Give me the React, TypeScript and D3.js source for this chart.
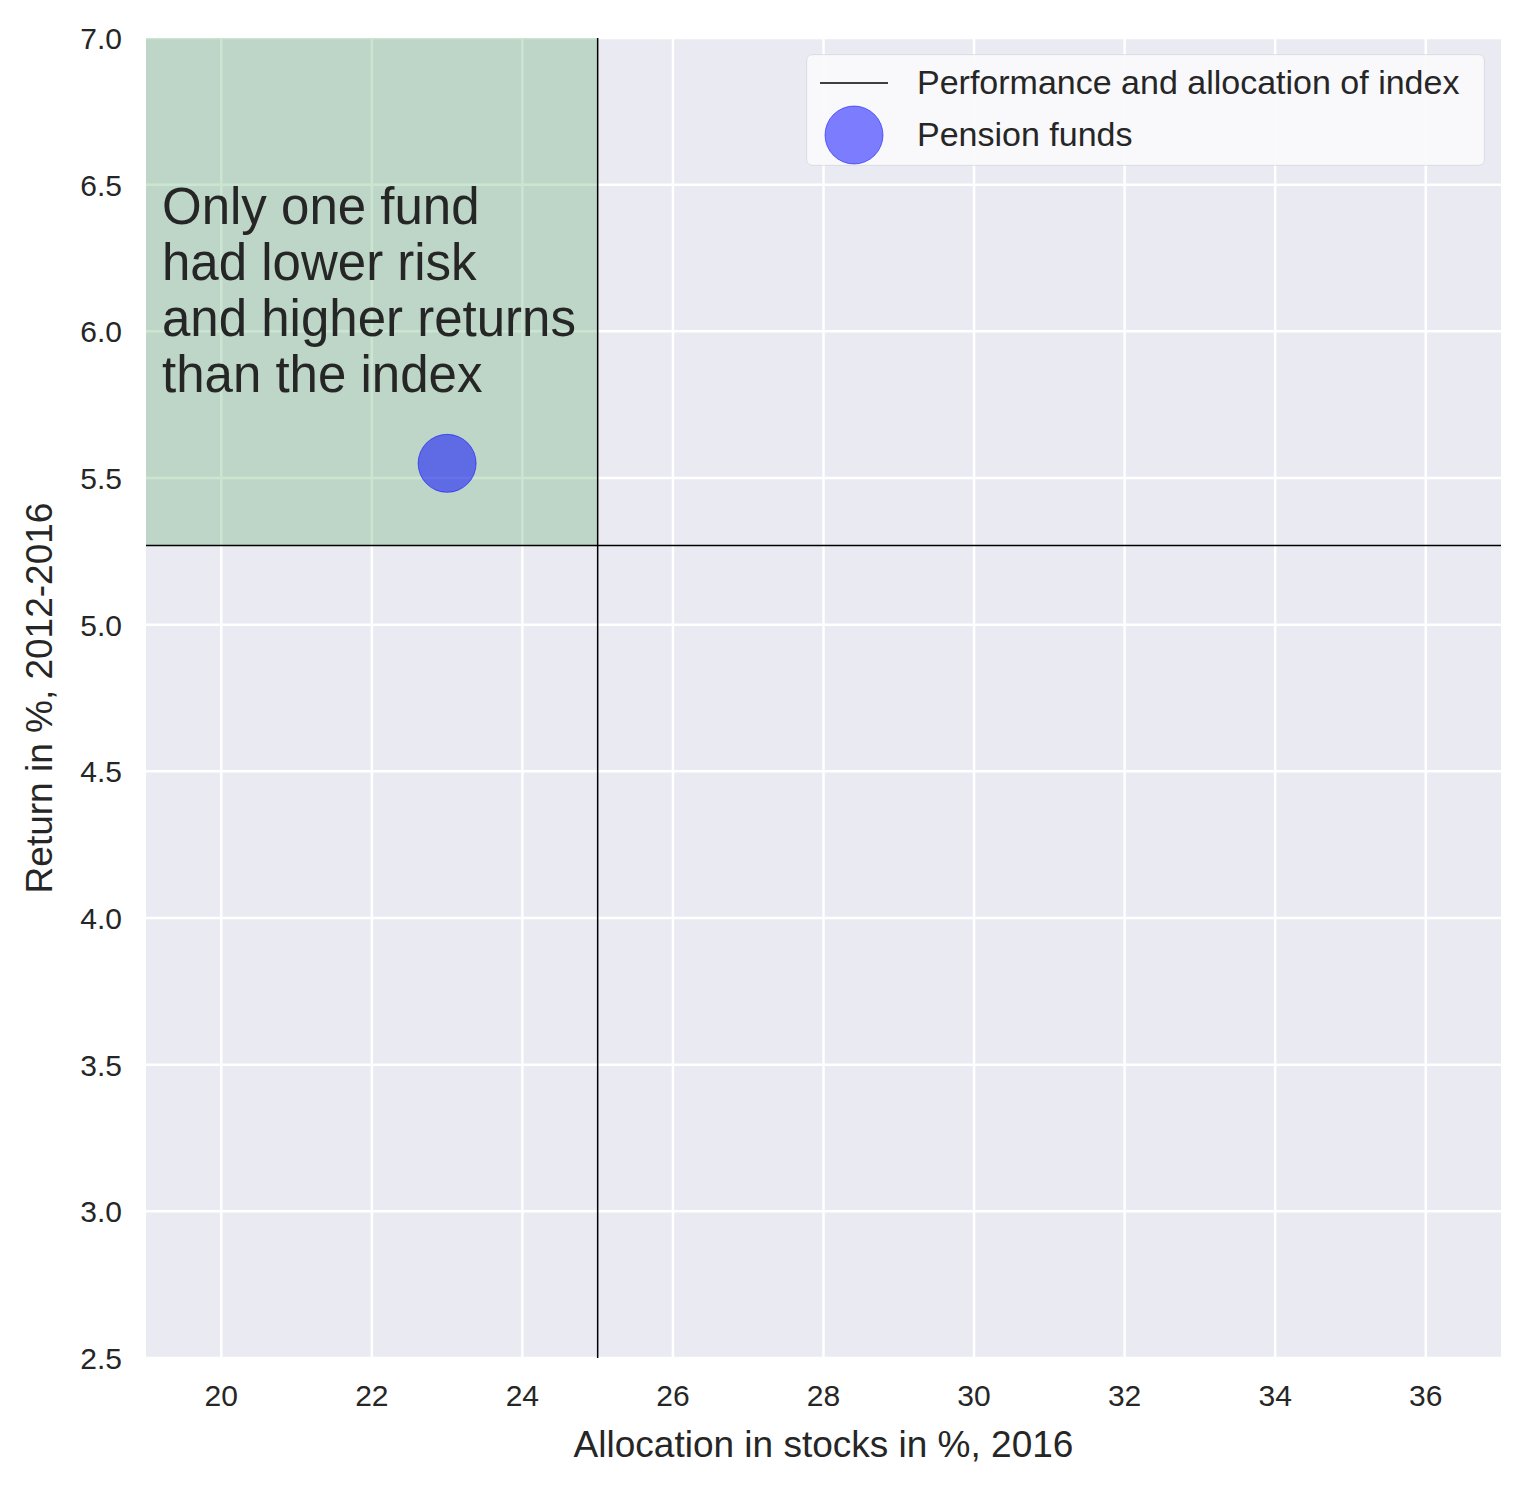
import React from 'react';
import * as d3 from 'd3';

const xTicks = [20, 22, 24, 26, 28, 30, 32, 34, 36];
const yTicks = [2.5, 3.0, 3.5, 4.0, 4.5, 5.0, 5.5, 6.0, 6.5, 7.0];
const indexAlloc = 25;
const indexReturn = 5.27;
const funds = [{ alloc: 23, ret: 5.55 }];
const noteLines = ['Only one fund', 'had lower risk', 'and higher returns', 'than the index'];

const W = 1526, H = 1489;
const m = { left: 146, right: 25, top: 38, bottom: 131 };
const font = '"Liberation Sans", Arial, sans-serif';

export default function App() {
  const x = d3.scaleLinear().domain([19, 37]).range([m.left, W - m.right]);
  const y = d3.scaleLinear().domain([2.5, 7]).range([H - m.bottom, m.top]);
  const [x0, x1] = x.range();
  const [y0, y1] = y.range();
  return (
    <svg width={W} height={H} style={{ position: 'absolute', left: 0, top: 0, fontFamily: font }}>
      <rect x={0} y={0} width={W} height={H} fill="#fff" />
      <rect x={x0} y={y1} width={x1 - x0} height={y0 - y1} fill="#eaeaf2" />
      {xTicks.map(t => <line key={'gx' + t} x1={x(t)} x2={x(t)} y1={y1} y2={y0} stroke="#fff" strokeWidth={2.5} />)}
      {yTicks.map(t => <line key={'gy' + t} x1={x0} x2={x1} y1={y(t)} y2={y(t)} stroke="#fff" strokeWidth={2.5} />)}
      <rect x={x(19)} y={y(7)} width={x(indexAlloc) - x(19)} height={y(indexReturn) - y(7)} fill="#55a868" opacity={0.3} />
      <line x1={x(indexAlloc)} x2={x(indexAlloc)} y1={y1} y2={y0} stroke="#000" strokeWidth={1.5} />
      <line x1={x0} x2={x1} y1={y(indexReturn)} y2={y(indexReturn)} stroke="#000" strokeWidth={1.5} />
      {funds.map((f, i) => (
        <circle key={i} cx={x(f.alloc)} cy={y(f.ret)} r={29} fill="#0000ff" fillOpacity={0.5} stroke="#0000ff" strokeOpacity={0.5} />
      ))}
      <text x={162} y={224} fontSize={51} fill="#262626">
        {noteLines.map((l, i) => <tspan key={i} x={162} dy={i === 0 ? 0 : 56}>{l}</tspan>)}
      </text>
      {xTicks.map(t => <text key={'tx' + t} x={x(t)} y={y0 + 48} fontSize={30} fill="#262626" textAnchor="middle">{t}</text>)}
      {yTicks.map(t => <text key={'ty' + t} x={x0 - 24} y={y(t) + 11} fontSize={30} fill="#262626" textAnchor="end">{t.toFixed(1)}</text>)}
      <text x={(x0 + x1) / 2} y={1457} fontSize={37} fill="#262626" textAnchor="middle">Allocation in stocks in %, 2016</text>
      <text transform={`translate(52,${(y0 + y1) / 2}) rotate(-90)`} fontSize={37} fill="#262626" textAnchor="middle">Return in %, 2012-2016</text>
      <rect x={807} y={55} width={677} height={110} rx={5} fill="#eaeaf2" fillOpacity={0.8} stroke="#d0d0d8" />
      <rect x={807} y={55} width={677} height={110} rx={5} fill="#fff" fillOpacity={0.7} />
      <line x1={820} x2={888} y1={83} y2={83} stroke="#000" strokeWidth={1.5} />
      <text x={917} y={94} fontSize={34} fill="#262626">Performance and allocation of index</text>
      <circle cx={854} cy={135} r={29} fill="#0000ff" fillOpacity={0.5} stroke="#0000ff" strokeOpacity={0.5} />
      <text x={917} y={146} fontSize={34} fill="#262626">Pension funds</text>
    </svg>
  );
}
